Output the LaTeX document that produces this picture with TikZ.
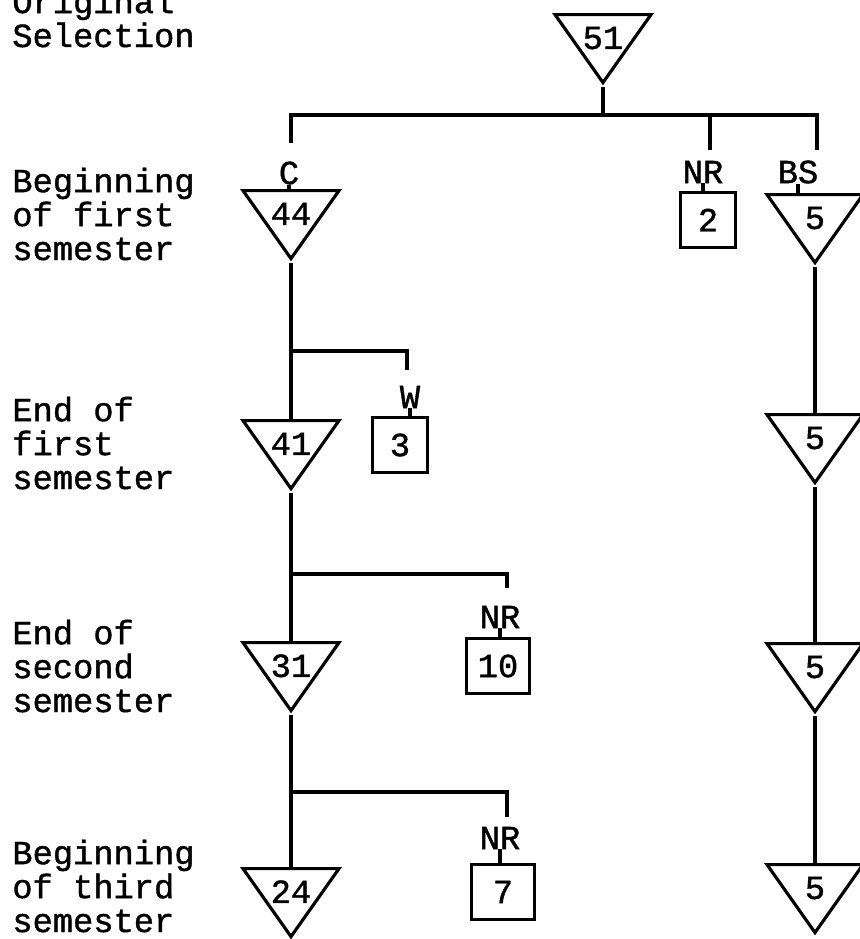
\documentclass[tikz,border=0pt]{standalone}
\usepackage{fontspec}
\newfontfamily\typewriterfont[FakeBold=1.2]{Liberation Mono}
\usetikzlibrary{shapes.geometric}
\tikzset{
    flow chart/.style = {every node/.style={font=\typewriterfont\fontsize{19.2pt}{19.3pt}\selectfont}},
    line/.style       = {line width=1.8pt},
    tri/.style        = {draw, line width=1.8pt, isosceles triangle,
                         shape border rotate=270,
                         isosceles triangle stretches,
                         minimum width=1.92cm, minimum height=1.36cm,
                         text height=0.3cm, text depth=0pt,
                         execute at begin node={\hbox to 0pt\bgroup\hss},
                         execute at end node={\hss\egroup},
                         inner sep=0pt, anchor=lower side},
    box/.style        = {draw, line width=1.8pt, inner sep=0pt,
                         minimum width=1.1cm, minimum height=1.1cm},
    wbox/.style       = {box, minimum width=1.26cm},
    tag/.style        = {inner sep=0pt},
    stage/.style      = {align=left, inner sep=0pt, anchor=base west}
}

\begin{document}
\begin{tikzpicture}[flow chart]
\useasboundingbox (0,0) rectangle (17.2,-18.78);

% ================= Stage labels =================
\node[stage] (sel)  at (0.24,-0.94)  {Original\\Selection};
\node[stage] (beg1) at (0.24,-5.20)  {Beginning\\of first\\semester};
\node[stage] (end1) at (0.24,-9.78)  {End of\\first\\semester};
\node[stage] (end2) at (0.24,-14.24) {End of\\second\\semester};
\node[stage] (beg3) at (0.24,-18.64) {Beginning\\of third\\semester};

% ================= Original selection =================
\node[tri] (t51) at (12.06,-0.26) {51};
\coordinate (bar c)  at (5.82,-2.30);
\coordinate (bar bs) at (16.34,-2.30);
\coordinate (c end)  at (5.82,-2.86);
\coordinate (nr end) at (14.2,-3.00);
\coordinate (bs end) at (16.34,-3.00);
\draw[line] (t51.apex) -- (t51.apex |- bar c);
\draw[line] (c end) |- (bar bs) -- (bs end);
\draw[line] (nr end |- bar c) -- (nr end);

% ================= Beginning of first semester =================
\node[tag] (c)   at (5.78,-3.46)  {C};
\node[tri] (t44) at (5.82,-3.78)  {44};
\node[tag] (nr1) at (14.06,-3.44) {NR};
\node[box] (b2)  at (14.16,-4.40) {2};
\node[tag] (bs)  at (15.96,-3.44) {BS};
\node[tri] (s1)  at (16.30,-3.86) {5};
\draw[line] (c.south) -- (c.south |- t44.lower side);
\draw[line] (nr1.south) -- (nr1.south |- b2.north);
\draw[line] (bs.south) -- (bs.south |- s1.lower side);

% ================= End of first semester =================
\coordinate (split w) at (5.82,-7.02);
\coordinate (w end)   at (8.14,-7.40);
\node[tag] (w)   at (8.20,-7.94)  {W};
\node[box] (b3)  at (8.00,-8.90)  {3};
\node[tri] (t41) at (5.82,-8.38)  {41};
\node[tri] (s2)  at (16.30,-8.26) {5};
\draw[line] (t44.apex) -- (t41.lower side);
\draw[line] (split w) -| (w end);
\draw[line] (w.south) -- (w.south |- b3.north);
\draw[line] (s1.apex) -- (s2.lower side);

% ================= End of second semester =================
\coordinate (split nr2) at (5.82,-11.48);
\coordinate (nr2 end)   at (10.14,-11.76);
\node[tag]  (nr2) at (10.00,-12.34) {NR};
\node[wbox] (b10) at (9.96,-13.32)  {10};
\node[tri]  (t31) at (5.82,-12.82)  {31};
\node[tri]  (s3)  at (16.30,-12.84) {5};
\draw[line] (t41.apex) -- (t31.lower side);
\draw[line] (split nr2) -| (nr2 end);
\draw[line] (nr2.south) -- (nr2.south |- b10.north);
\draw[line] (s2.apex) -- (s3.lower side);

% ================= Beginning of third semester =================
\coordinate (split nr3) at (5.82,-15.84);
\coordinate (nr3 end)   at (10.14,-16.34);
\node[tag]  (nr3) at (10.00,-16.76) {NR};
\node[wbox] (b7)  at (10.06,-17.84) {7};
\node[tri]  (t24) at (5.82,-17.34)  {24};
\node[tri]  (s4)  at (16.30,-17.26) {5};
\draw[line] (t31.apex) -- (t24.lower side);
\draw[line] (split nr3) -| (nr3 end);
\draw[line] (nr3.south) -- (nr3.south |- b7.north);
\draw[line] (s3.apex) -- (s4.lower side);

\end{tikzpicture}
\end{document}
